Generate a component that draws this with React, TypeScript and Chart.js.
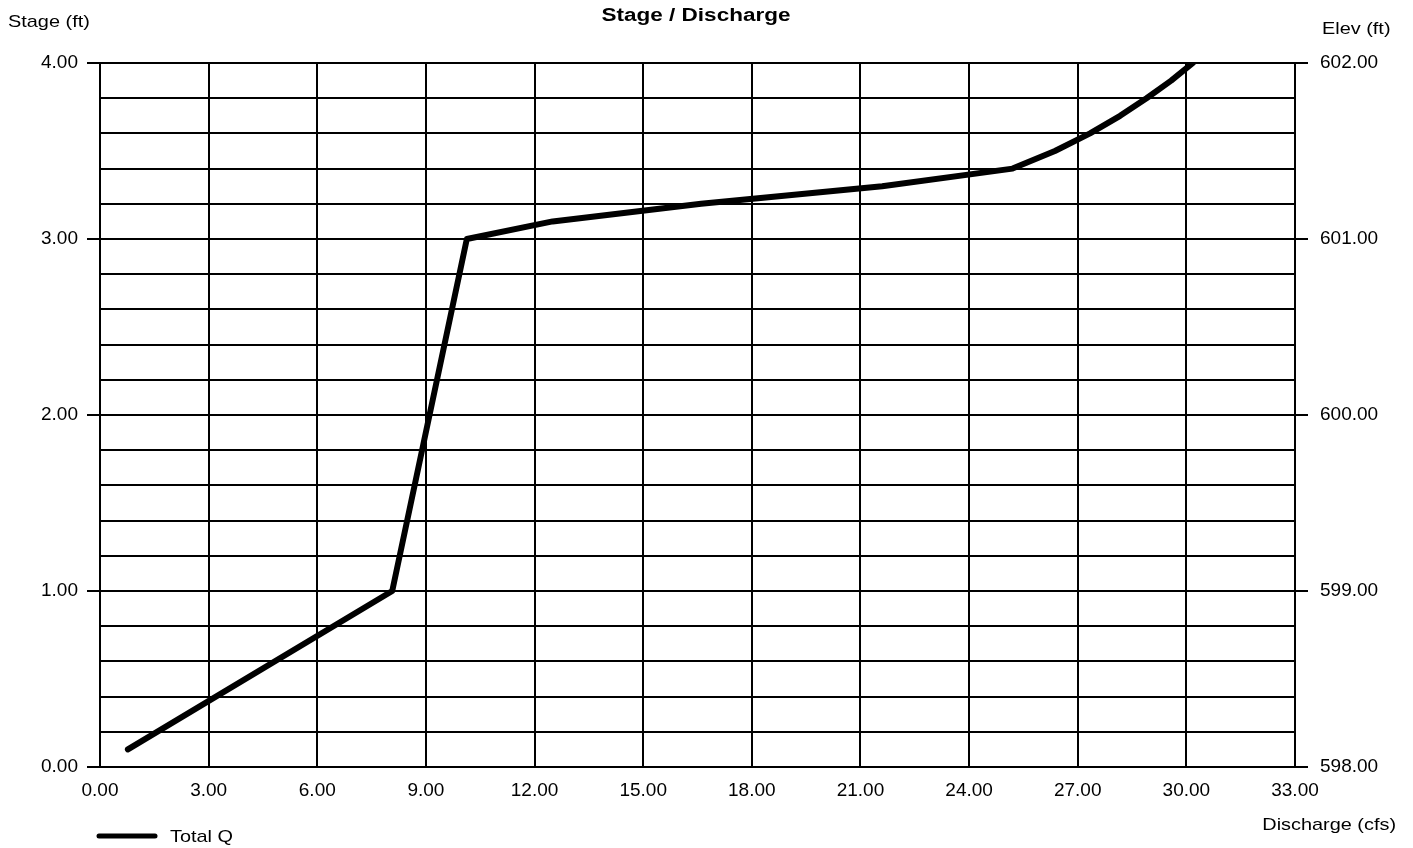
import React, { useEffect, useRef } from "react";
import { Chart, registerables } from "chart.js";

Chart.register(...registerables);

const discharge = [0.77, 8.07, 10.13, 12.5, 16.6, 21.6, 25.2, 26.37, 27.34, 28.17, 28.9, 29.58, 30.18];
const stage = [0.1, 1.0, 3.0, 3.1, 3.2, 3.3, 3.4, 3.5, 3.6, 3.7, 3.8, 3.9, 4.0];
const seriesName = "Total Q";
const chartTitle = "Stage / Discharge";
const leftTitle = "Stage (ft)";
const rightTitle = "Elev (ft)";
const xTitle = "Discharge (cfs)";

const FONT = "'Liberation Sans', Arial, sans-serif";

function stretchText(c: CanvasRenderingContext2D, text: string, x: number, y: number, sx: number, align: "left" | "center" | "right") {
  c.save();
  c.translate(x, y);
  c.scale(sx, 1);
  c.textAlign = align;
  c.fillText(text, 0, 0);
  c.restore();
}

export default function App() {
  const ref = useRef<HTMLCanvasElement | null>(null);
  useEffect(() => {
    if (!ref.current) return;
    const textPlugin = {
      id: "texts",
      afterDraw(chart: any) {
        const c = chart.ctx;
        c.save();
        c.fillStyle = "#000";
        c.textBaseline = "middle";
        c.font = `bold 18px ${FONT}`;
        stretchText(c, chartTitle, 696, 16, 1.25, "center");
        c.font = `17px ${FONT}`;
        stretchText(c, leftTitle, 8, 22, 1.17, "left");
        stretchText(c, rightTitle, 1322, 29, 1.17, "left");
        stretchText(c, xTitle, 1396, 825, 1.17, "right");
        // legend
        c.strokeStyle = "#000";
        c.lineWidth = 5;
        c.lineCap = "round";
        c.beginPath();
        c.moveTo(99, 836);
        c.lineTo(155, 836);
        c.stroke();
        stretchText(c, seriesName, 170, 837, 1.17, "left");
        c.restore();
      },
    };
    const tickFont = { family: FONT, size: 19 };
    const chart = new Chart(ref.current, {
      type: "line",
      data: {
        datasets: [
          {
            label: seriesName,
            data: discharge.map((x, i) => ({ x, y: stage[i] })),
            borderColor: "#000",
            backgroundColor: "#000",
            borderWidth: 6,
            pointRadius: 0,
            tension: 0,
            borderCapStyle: "round",
            borderJoinStyle: "round",
            yAxisID: "y",
          },
        ],
      },
      options: {
        animation: false,
        responsive: false,
        maintainAspectRatio: false,
        layout: { padding: { top: 63, left: 0, right: 0, bottom: 0 } },
        plugins: { legend: { display: false }, title: { display: false }, tooltip: { enabled: false } },
        scales: {
          x: {
            type: "linear",
            min: 0,
            max: 33,
            afterFit: (s: any) => { s.height = 81; },
            ticks: {
              stepSize: 3,
              color: "#000",
              font: tickFont,
              padding: 12,
              maxRotation: 0,
              callback: (v: any) => Number(v).toFixed(2),
            },
            grid: { color: "#000", lineWidth: 2, drawTicks: false },
            border: { color: "#000", width: 2 },
          },
          y: {
            type: "linear",
            position: "left",
            min: 0,
            max: 4,
            afterFit: (s: any) => { s.width = 100; },
            ticks: {
              stepSize: 0.2,
              autoSkip: false,
              color: "#000",
              font: tickFont,
              padding: 9,
              callback: (v: any) => (Math.abs(v - Math.round(v)) < 1e-6 ? Number(v).toFixed(2) : ""),
            },
            grid: {
              color: "#000",
              lineWidth: 2,
              tickLength: 13,
              tickColor: (ctx: any) =>
                ctx.tick && Math.abs(ctx.tick.value - Math.round(ctx.tick.value)) < 1e-6 ? "#000" : "rgba(0,0,0,0)",
            },
            border: { color: "#000", width: 2 },
          },
          y2: {
            type: "linear",
            position: "right",
            min: 598,
            max: 602,
            afterFit: (s: any) => { s.width = 118; },
            ticks: {
              stepSize: 1,
              color: "#000",
              font: tickFont,
              padding: 12,
              callback: (v: any) => Number(v).toFixed(2),
            },
            grid: { drawOnChartArea: false, color: "#000", lineWidth: 2, tickLength: 13 },
            border: { color: "#000", width: 2 },
          },
        },
      },
      plugins: [textPlugin],
    } as any);
    return () => chart.destroy();
  }, []);
  return (
    <div style={{ position: "fixed", left: 0, top: 0, width: 1413, height: 848, background: "#fff" }}>
      <canvas ref={ref} width={1413} height={848} style={{ width: 1413, height: 848, display: "block" }} />
    </div>
  );
}
